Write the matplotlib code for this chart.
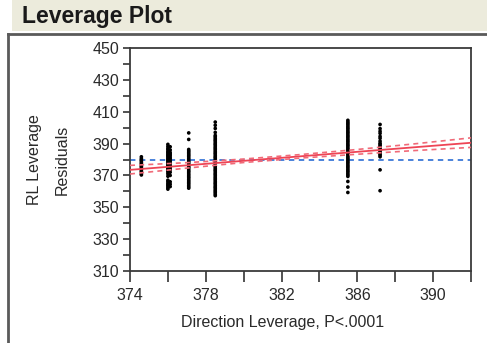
import matplotlib
matplotlib.use('Agg')
import matplotlib.pyplot as plt
from matplotlib.patches import Rectangle
from matplotlib.lines import Line2D

plt.rcParams['font.family'] = ['Liberation Sans', 'DejaVu Sans']

# x position of each vertical strip of points (Direction Leverage)
lev_x = [374.6, 376.0, 376.12, 377.1, 378.5, 385.5, 387.2]

# leverage residuals
res_a = [370.3, 371.0, 371.9, 372.6, 373.5, 374.2, 375.1, 375.8, 376.7, 377.4,
         378.2, 379.1, 379.8, 380.6, 381.7]
res_b = [361.4, 362.3, 363.3, 364.1, 365.0, 366.1, 367.0, 369.5, 371.0, 372.2,
         373.0, 373.9, 374.6, 375.4, 376.3, 377.0, 377.8, 378.7, 379.4, 380.2,
         381.0, 381.9, 382.6, 383.4, 384.3, 385.0, 386.1, 387.0, 388.2, 389.5]
res_c = [363.0, 364.5, 366.0, 370.0, 372.0, 373.5, 374.6, 375.5, 376.4, 377.5,
         378.6, 379.5, 380.4, 381.5, 382.6, 383.5, 384.4, 386.0, 388.0]
res_d = [362.0, 362.9, 363.8, 364.8, 365.6, 366.5, 367.4, 368.4, 369.2, 370.1,
         371.0, 372.0, 372.8, 373.7, 374.7, 375.5, 376.4, 377.3, 378.3, 379.1,
         380.0, 380.9, 381.9, 382.7, 383.6, 384.5, 385.4, 386.3, 392.6, 396.7]
res_e = [357.3, 358.2, 359.2, 360.0, 360.9, 361.9, 362.7, 363.6, 364.6, 365.4,
         366.3, 367.3, 368.1, 369.0, 370.0, 370.8, 371.7, 372.7, 373.5, 374.4,
         375.4, 376.2, 377.1, 378.1, 378.9, 379.8, 380.8, 381.6, 382.5, 383.5,
         384.3, 385.2, 386.2, 387.0, 387.9, 388.9, 389.7, 390.6, 391.6, 392.4,
         393.3, 394.3, 395.1, 397.0, 399.5, 401.5, 403.5]
res_f = [359.3, 362.7, 366.2, 369.4, 370.3, 371.2, 372.2, 373.0, 373.9, 374.9,
         375.7, 376.6, 377.6, 378.4, 379.3, 380.3, 381.1, 382.0, 383.0, 383.8,
         384.7, 385.7, 386.5, 387.4, 388.4, 389.2, 390.1, 391.1, 391.9, 392.8,
         393.8, 394.6, 395.5, 396.5, 397.3, 398.2, 399.2, 400.0, 400.9, 401.9,
         402.7, 403.6, 404.6]
res_g = [360.4, 373.5, 381.7, 382.6, 383.4, 384.3, 385.2, 386.0, 386.9, 387.8,
         388.6, 389.5, 390.2, 391.5, 393.3, 394.5, 396.4, 397.7, 399.4, 402.0]
strips = [res_a, res_b, res_c, res_d, res_e, res_f, res_g]

# fitted line, its confidence curves and the mean line
fit_x = [374, 392]
fit_y = [373.5, 390.5]
conf_x = [374, 377, 380, 383, 386, 389, 392]
conf_hi = [376.3, 378.0, 380.3, 383.1, 386.3, 389.8, 393.6]
conf_lo = [370.9, 374.6, 378.1, 380.9, 383.3, 385.6, 387.6]
mean_y = 380

W, H = 487, 343
fig = plt.figure(figsize=(W / 100, H / 100), dpi=100)
fig.patch.set_facecolor('white')

# header bar
fig.patches.append(Rectangle((12 / W, 1 - 31 / H), 1 - 12 / W, 31 / H,
                             transform=fig.transFigure, facecolor='#ECEBDC',
                             edgecolor='none', zorder=0))
fig.lines.append(Line2D([8 / W, 1], [1 - 34 / H, 1 - 34 / H],
                        transform=fig.transFigure, color='#5a5a5a', lw=2))
fig.lines.append(Line2D([8 / W, 8 / W], [0, 1 - 34 / H],
                        transform=fig.transFigure, color='#5a5a5a', lw=2))
fig.text(22 / W, 1 - 16 / H, 'Leverage Plot', fontsize=16.5, fontweight='bold',
         color='#1a1a1a', ha='left', va='center')

ax = fig.add_axes([130 / W, 1 - 271 / H, 341 / W, 223 / H])

for x, ys in zip(lev_x, strips):
    ax.scatter([x] * len(ys), ys, s=7, color='black', edgecolors='none', zorder=3)

ax.axhline(mean_y, color='#3C78D8', lw=1.3, ls=(0, (3, 2.5)), zorder=2)
ax.plot(fit_x, fit_y, color='#EE4455', lw=1.3, zorder=4)
ax.plot(conf_x, conf_hi, color='#F06A78', lw=1.2, ls=(0, (3, 2.5)), zorder=4)
ax.plot(conf_x, conf_lo, color='#F06A78', lw=1.2, ls=(0, (3, 2.5)), zorder=4)

ax.set_xlim(374, 392)
ax.set_ylim(310, 450)
ax.set_xticks([374, 378, 382, 386, 390])
ax.set_xticks([376, 380, 384, 388, 392], minor=True)
ax.set_yticks(range(310, 451, 20))
ax.set_yticks(range(320, 450, 20), minor=True)
ax.tick_params(axis='x', which='both', direction='out', length=8, width=1.2,
               color='#333333', labelsize=11.5, labelcolor='#2a2a2a', pad=4)
ax.tick_params(axis='y', which='both', direction='out', length=5, width=1.2,
               color='#333333', labelsize=11.5, labelcolor='#2a2a2a', pad=3)
for sp in ax.spines.values():
    sp.set_color('#3a3a3a')
    sp.set_linewidth(1.3)

fig.text(283 / W, 1 - 323 / H, 'Direction Leverage, P<.0001', fontsize=11.5,
         color='#2a2a2a', ha='center', va='center')
fig.text(35 / W, 1 - 160 / H, 'RL Leverage', fontsize=11.5, rotation=90,
         color='#2a2a2a', ha='center', va='center')
fig.text(62 / W, 1 - 160 / H, 'Residuals', fontsize=11.5, rotation=90,
         color='#2a2a2a', ha='center', va='center')

fig.savefig('out.png', dpi=100)
